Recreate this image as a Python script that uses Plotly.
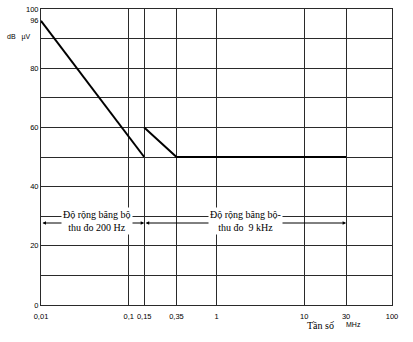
import math
import plotly.graph_objects as go

# Data
seg1_freq = [0.01, 0.15]
seg1_level = [96, 50]
seg2_freq = [0.15, 0.35, 30]
seg2_level = [60, 50, 50]

x_tickvals = [0.01, 0.1, 0.15, 0.35, 1, 10, 30, 100]
x_ticktext = ["0,01", "0,1", "0,15", "0,35", "1", "10", "30", "100"]
y_tickvals = [0, 20, 40, 60, 80, 96, 100]
y_ticktext = ["0", "20", "40", "60", "80", "96", "100"]

band1_text = "Độ rộng băng bộ<br>thu đo 200 Hz"
band2_text = "Độ rộng băng bộ-<br>thu đo  9 kHz"
band_arrow_level = 27.7

GRID = "#2a2a2a"
fig = go.Figure()
fig.add_trace(go.Scatter(x=seg1_freq, y=seg1_level, mode="lines",
                         line=dict(color="black", width=2), showlegend=False))
fig.add_trace(go.Scatter(x=seg2_freq, y=seg2_level, mode="lines",
                         line=dict(color="black", width=2), showlegend=False))

L = math.log10
# arrows
fig.add_annotation(x=L(0.15), y=band_arrow_level, ax=L(0.01), ay=band_arrow_level,
                   xref="x", yref="y", axref="x", ayref="y", text="",
                   showarrow=True, arrowhead=2, arrowside="end+start",
                   arrowsize=0.7, arrowwidth=1, arrowcolor="black")
fig.add_annotation(x=L(30), y=band_arrow_level, ax=L(0.15), ay=band_arrow_level,
                   xref="x", yref="y", axref="x", ayref="y", text="",
                   showarrow=True, arrowhead=2, arrowside="end+start",
                   arrowsize=0.7, arrowwidth=1, arrowcolor="black")
# texts
fig.add_annotation(x=-1.362, y=28.3, xref="x", yref="y", text=band1_text,
                   showarrow=False, bgcolor="white", borderpad=1,
                   font=dict(family="Liberation Serif", size=10, color="black"))
fig.add_annotation(x=0.33, y=28.3, xref="x", yref="y", text=band2_text,
                   showarrow=False, bgcolor="white", borderpad=1,
                   font=dict(family="Liberation Serif", size=10, color="black"))
fig.add_annotation(x=(5 - 41) / 351, y=(305 - 33) / 300, xref="paper", yref="paper",
                   text="dB   µV", showarrow=False, xanchor="left", yanchor="middle",
                   font=dict(family="Liberation Sans", size=7, color="black"))
fig.add_annotation(x=(305 - 41) / 351, y=-(326 - 305) / 300, xref="paper", yref="paper",
                   text="Tần số", showarrow=False, xanchor="left", yanchor="middle",
                   font=dict(family="Liberation Serif", size=10, color="black"))
fig.add_annotation(x=(344 - 41) / 351, y=-(325 - 305) / 300, xref="paper", yref="paper",
                   text="MHz", showarrow=False, xanchor="left", yanchor="middle",
                   font=dict(family="Liberation Sans", size=7, color="black"))

fig.update_layout(
    width=413, height=342,
    margin=dict(l=41, r=21, t=5, b=37),
    paper_bgcolor="white", plot_bgcolor="white",
    font=dict(family="Liberation Sans", size=8, color="black"),
    xaxis=dict(type="log", range=[-2, 2], tickvals=x_tickvals, ticktext=x_ticktext,
               showgrid=True, gridcolor=GRID, gridwidth=1, zeroline=False,
               showline=True, linecolor=GRID, mirror=True, ticks="",
               ticklabelstandoff=4, tickfont=dict(size=7.5)),
    yaxis=dict(range=[0, 100], tickvals=y_tickvals, ticktext=y_ticktext,
               showgrid=False, zeroline=False, showline=True, linecolor=GRID,
               mirror=True, ticks="", tickfont=dict(size=7.5),
               minor=dict(dtick=10, tick0=0, showgrid=True, gridcolor=GRID, gridwidth=1)),
)
fig.write_html("out.html")
